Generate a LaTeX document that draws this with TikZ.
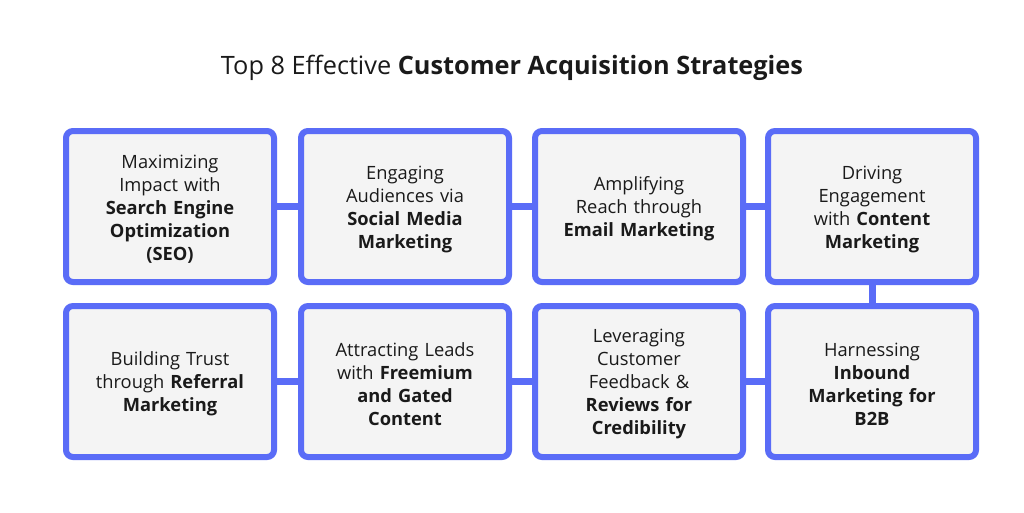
\documentclass[tikz,border=0pt]{standalone}
\usepackage{fontspec}
\setmainfont{Open Sans}
\definecolor{boxblue}{HTML}{5A6CF7}
\definecolor{boxfill}{HTML}{F4F4F4}
\definecolor{txt}{HTML}{1A1A1A}
\begin{document}
\begin{tikzpicture}[x=1pt,y=1pt,
  card/.style={draw=boxblue, line width=6pt, fill=boxfill, rounded corners=7pt,
    minimum width=208pt, minimum height=151pt},
  cardtext/.style={align=center, text=txt, yshift=-2.5pt,
    font=\fontsize{18.3}{23}\selectfont, text width=190pt},
  link/.style={draw=boxblue, line width=7pt}]
\useasboundingbox[fill=white] (0,0) rectangle (1024,-512);
\node[text=txt, font=\fontsize{25.3}{29}\selectfont] (title) at (512,-68) {Top 8 Effective \textbf{Customer Acquisition Strategies}};
\coordinate (p1) at (170,-206.5);
\coordinate (p2) at (405,-206.5);
\coordinate (p3) at (639,-206.5);
\coordinate (p4) at (872,-206.5);
\coordinate (q1) at (170,-381.5);
\coordinate (q2) at (405,-381.5);
\coordinate (q3) at (639,-381.5);
\coordinate (q4) at (872,-381.5);
\draw[link] (p1) -- (p2) -- (p3) -- (p4) -- (q4) -- (q3) -- (q2) -- (q1);
\foreach \c in {p1,p2,p3,p4,q1,q2,q3,q4} {\node[card] (box-\c) at (\c) {};}
\node[cardtext] (a1) at (p1) {Maximizing\\Impact with\\\textbf{Search Engine}\\\textbf{Optimization}\\\textbf{(SEO)}};
\node[cardtext] (a2) at (p2) {Engaging\\Audiences via\\\textbf{Social Media}\\\textbf{Marketing}};
\node[cardtext] (a3) at (p3) {Amplifying\\Reach through\\\textbf{Email Marketing}};
\node[cardtext] (a4) at (p4) {Driving\\Engagement\\with \textbf{Content}\\\textbf{Marketing}};
\node[cardtext] (b4) at (q4) {Harnessing\\\textbf{Inbound}\\\textbf{Marketing for}\\\textbf{B2B}};
\node[cardtext] (b3) at (q3) {Leveraging\\Customer\\Feedback \&\\\textbf{Reviews for}\\\textbf{Credibility}};
\node[cardtext] (b2) at (q2) {Attracting Leads\\with \textbf{Freemium}\\\textbf{and Gated}\\\textbf{Content}};
\node[cardtext] (b1) at (q1) {Building Trust\\through \textbf{Referral}\\\textbf{Marketing}};
\end{tikzpicture}
\end{document}
